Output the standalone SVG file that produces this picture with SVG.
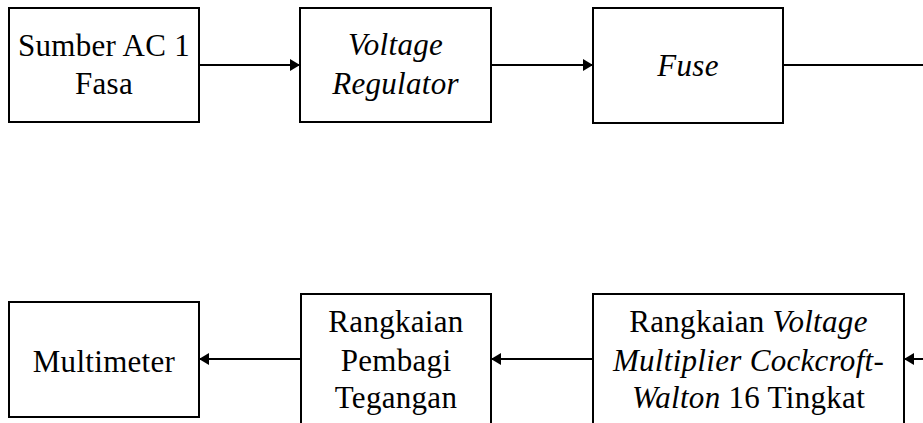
<svg xmlns="http://www.w3.org/2000/svg" width="923" height="423" viewBox="0 0 923 423">
<style>
.box{fill:#fff;stroke:#000;stroke-width:2}
.t{font-family:"Liberation Serif","Times New Roman",serif;font-size:31px;letter-spacing:0.3px;fill:#000;text-anchor:middle}
.i{font-style:italic}
.c{stroke:#000;stroke-width:2;fill:none}
</style>
<defs>
<marker id="ah" markerUnits="userSpaceOnUse" markerWidth="11" markerHeight="14" viewBox="0 0 11 14" refX="10" refY="7" orient="auto">
<path d="M0,1 L10,7 L0,13 Z" fill="#000"/>
</marker>
</defs>
<rect width="923" height="423" fill="#fff"/>
<g id="connectors">
<path class="c" d="M199,65 H300" marker-end="url(#ah)"/>
<path class="c" d="M491,65 H593" marker-end="url(#ah)"/>
<path class="c" d="M783,65 H923"/>
<path class="c" d="M923,359 H904" marker-end="url(#ah)"/>
<path class="c" d="M593,359 H491" marker-end="url(#ah)"/>
<path class="c" d="M301,359 H199" marker-end="url(#ah)"/>
</g>
<g id="n1">
<rect class="box" x="9" y="8" width="190" height="114"/>
<text class="t" x="104" y="56">Sumber AC 1</text>
<text class="t" x="104" y="94">Fasa</text>
</g>
<g id="n2">
<rect class="box" x="300" y="8" width="191" height="114"/>
<text class="t i" x="395.5" y="55">Voltage</text>
<text class="t i" x="395.5" y="94">Regulator</text>
</g>
<g id="n3">
<rect class="box" x="593" y="8" width="190" height="115"/>
<text class="t i" x="688" y="76">Fuse</text>
</g>
<g id="n4">
<rect class="box" x="593" y="294" width="311" height="140"/>
<text class="t" x="748.5" y="332">Rangkaian <tspan class="i">Voltage</tspan></text>
<text class="t i" x="748.5" y="371">Multiplier Cockcroft-</text>
<text class="t" x="748.5" y="408"><tspan class="i">Walton</tspan> 16 Tingkat</text>
</g>
<g id="n5">
<rect class="box" x="301" y="294" width="190" height="140"/>
<text class="t" x="396" y="332">Rangkaian</text>
<text class="t" x="396" y="371">Pembagi</text>
<text class="t" x="396" y="408">Tegangan</text>
</g>
<g id="n6">
<rect class="box" x="9" y="302" width="190" height="115"/>
<text class="t" x="104" y="372">Multimeter</text>
</g>
</svg>
